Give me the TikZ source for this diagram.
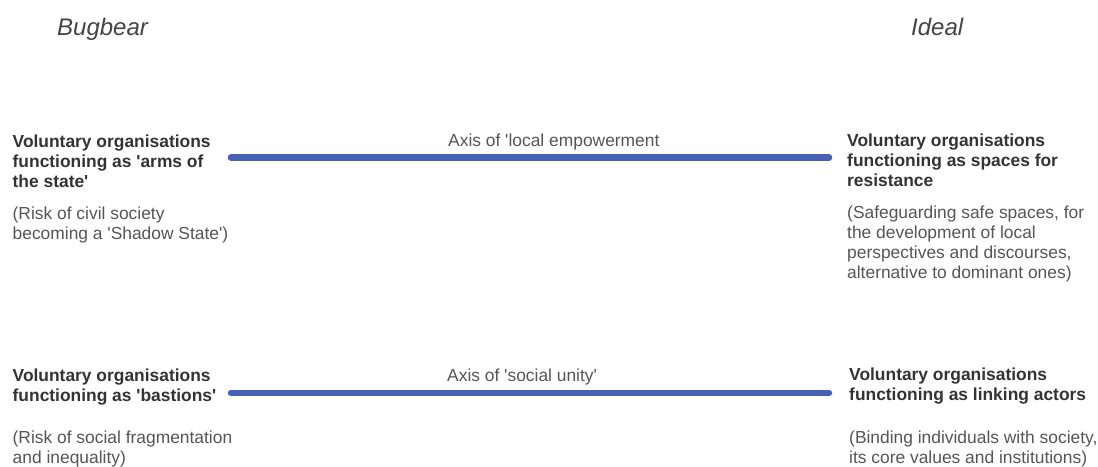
\documentclass[tikz,border=0pt]{standalone}
\usepackage{fontspec}
\setmainfont{Liberation Sans}[Ligatures=TeXOff]
\definecolor{axisblue}{HTML}{4861B4}
\definecolor{headgray}{HTML}{333333}
\definecolor{bodygray}{HTML}{555555}
\definecolor{titlegray}{HTML}{444444}
\tikzset{
  txt/.style={inner sep=0pt, anchor=base west, align=left,
    font=\fontsize{17.4}{20}\selectfont},
  headtxt/.style={txt, text=headgray, font=\fontsize{17.4}{20}\selectfont\bfseries},
  bodytxt/.style={txt, text=bodygray},
  axislabel/.style={txt, text=bodygray},
  titletxt/.style={inner sep=0pt, anchor=base west, text=titlegray,
    font=\fontsize{24}{28}\selectfont\itshape},
  axisline/.style={draw=axisblue, line width=6.5pt, line cap=round}
}
\begin{document}
\begin{tikzpicture}[x=1pt,y=-1pt]
\useasboundingbox (0,0) rectangle (1098,466);
% titles
\node[titletxt] (bug) at (57,35) {Bugbear};
\node[titletxt] (ideal) at (911,35) {Ideal};
% top row (anchor = baseline of last line)
\node[headtxt] (l1h) at (12.5,187.5) {Voluntary organisations\\functioning as 'arms of\\the state'};
\node[bodytxt] (l1s) at (12.5,239) {(Risk of civil society\\becoming a 'Shadow State')};
\node[headtxt] (r1h) at (847,186.5) {Voluntary organisations\\functioning as spaces for\\resistance};
\node[bodytxt] (r1s) at (847,278) {(Safeguarding safe spaces, for\\the development of local\\perspectives and discourses,\\alternative to dominant ones)};
\node[axislabel] (a1) at (448,146.7) {Axis of 'local empowerment};
\coordinate (a1s) at (231,157.5);
\coordinate (a1e) at (829,157.5);
\draw[axisline] (a1s) -- (a1e);
% bottom row
\node[headtxt] (l2h) at (12.5,401) {Voluntary organisations\\functioning as 'bastions'};
\node[bodytxt] (l2s) at (12.5,463) {(Risk of social fragmentation\\and inequality)};
\node[headtxt] (r2h) at (849,400.5) {Voluntary organisations\\functioning as linking actors};
\node[bodytxt] (r2s) at (849,463) {(Binding individuals with society,\\its core values and institutions)};
\node[axislabel] (a2) at (447,381) {Axis of 'social unity'};
\coordinate (a2s) at (231,393);
\coordinate (a2e) at (829,393);
\draw[axisline] (a2s) -- (a2e);
\end{tikzpicture}
\end{document}
